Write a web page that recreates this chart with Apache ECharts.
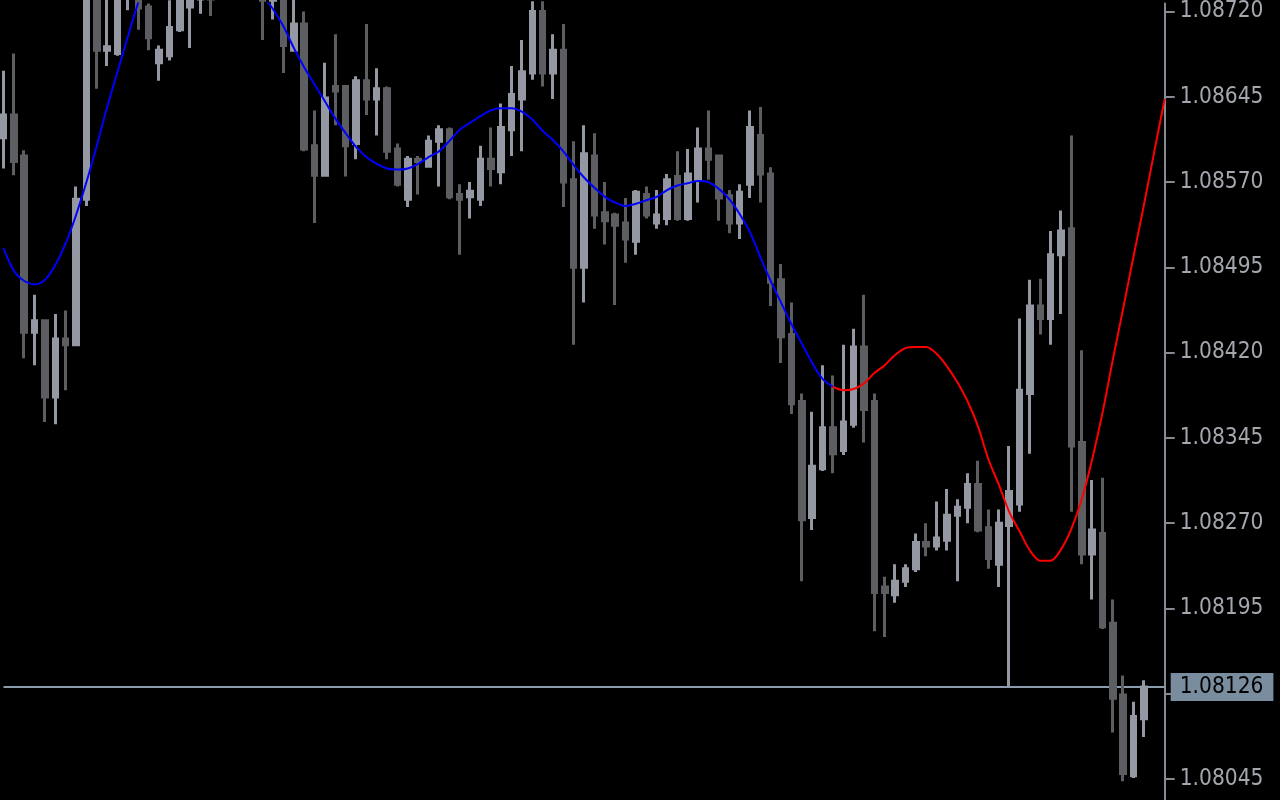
<!DOCTYPE html>
<html><head><meta charset="utf-8">
<script src="https://cdn.jsdelivr.net/npm/echarts@6/dist/echarts.min.js"></script>
<style>html,body{margin:0;padding:0;background:#000;} #c{width:1280px;height:800px;}</style>
</head><body><div id="c"></div>
<script>
// OHLC in 1e-5 price units
const opens = [108609,108629,108593,108438,108448,108381,108432,108427,108555,108736,
108686,108683,108736,108736,108724,108675,108681,108704,108724,108731,
108749,108736,108762,108745,108766,108740,108730,108731,108686,108709,
108602,108576,108654,108654,108604,108659,108643,108652,108599,108555,
108590,108584,108606,108616,108559,108557,108555,108590,108579,108616,
108643,108666,108720,108666,108686,108572,108495,108593,108543,108541,
108534,108518,108559,108534,108538,108575,108538,108572,108599,108593,
108558,108534,108568,108611,108577,108484,108436,108377,108275,108318,
108354,108334,108357,108425,108377,108214,108207,108219,108230,108253,
108250,108255,108277,108284,108304,108266,108234,108268,108287,108384,
108461,108450,108506,108529,108341,108243,108261,108182,108119,108048,
108098];
const closes = [108629,108588,108438,108448,108381,108432,108427,108555,108740,108686,
108689,108736,108753,108723,108697,108686,108706,108731,108736,108745,
108731,108762,108745,108766,108740,108730,108745,108690,108709,108599,
108576,108644,108650,108602,108659,108643,108652,108597,108568,108590,
108588,108606,108616,108557,108555,108562,108590,108582,108618,108647,
108667,108720,108666,108686,108570,108495,108595,108541,108536,108532,
108520,108561,108541,108541,108572,108538,108577,108599,108590,108556,
108534,108561,108618,108577,108482,108434,108375,108273,108320,108354,
108331,108359,108425,108370,108209,108209,108219,108230,108253,108250,
108257,108277,108284,108304,108264,108239,108270,108298,108387,108461,
108450,108506,108527,108338,108243,108264,108179,108116,108050,108100,
108126];
const lows = [108582,108576,108415,108409,108359,108357,108387,108427,108549,108652,
108672,108681,108721,108704,108686,108659,108677,108702,108688,108718,
108716,108731,108736,108740,108731,108695,108713,108666,108686,108597,
108534,108576,108620,108575,108590,108629,108611,108590,108566,108548,
108559,108584,108566,108555,108506,108538,108549,108566,108568,108593,
108597,108660,108654,108643,108548,108427,108464,108529,108515,108462,
108499,108506,108538,108529,108532,108536,108536,108552,108572,108536,
108525,108520,108556,108552,108461,108411,108366,108219,108264,108316,
108314,108330,108354,108341,108175,108170,108200,108214,108227,108241,
108246,108246,108219,108270,108262,108230,108214,108125,108280,108331,
108436,108427,108454,108280,108234,108203,108177,108086,108043,108046,
108082];
const highs = [108668,108683,108598,108471,108448,108454,108457,108566,108749,108745,
108731,108740,108762,108745,108727,108690,108730,108736,108740,108753,
108758,108771,108775,108775,108779,108749,108753,108740,108731,108720,
108633,108675,108700,108654,108663,108709,108670,108654,108604,108593,
108593,108611,108620,108618,108568,108570,108602,108618,108639,108672,
108695,108729,108729,108700,108709,108606,108620,108613,108570,108543,
108556,108563,108566,108563,108577,108597,108599,108618,108633,108593,
108563,108568,108633,108636,108583,108498,108464,108384,108368,108409,
108400,108427,108441,108471,108384,108223,108234,108234,108261,108270,
108289,108300,108291,108314,108325,108282,108282,108338,108450,108484,
108485,108527,108545,108611,108422,108308,108310,108203,108136,108113,
108132];
// smoothing indicator, one value per bar (last two bars are projection only)
const filterLine = [108512,108492,108483,108480,108484,108497,108516,108541,108570,108602,
108636,108667,108698,108728,108753,108773,108789,108799,108804,108804,
108799,108788,108774,108760,108746,108734,108722,108707,108688,108671,
108656,108641,108626,108613,108601,108592,108586,108582,108581,108582,
108586,108592,108597,108606,108616,108622,108628,108633,108635,108635,
108632,108625,108615,108607,108597,108585,108574,108565,108557,108552,
108549,108551,108554,108557,108563,108567,108569,108571,108570,108564,
108555,108542,108526,108504,108483,108464,108445,108428,108411,108397,
108390,108387,108388,108393,108402,108409,108418,108424,108425,108425,
108419,108408,108394,108377,108355,108326,108304,108280,108263,108246,
108237,108237,108247,108265,108291,108326,108367,108414,108459,108505,
108550,108597,108643];
const projectionStart = 80;
const tickLabels = [108045,108120,108195,108270,108345,108420,108495,108570,108645,108720];
const yRange = {min: 108026.6, max: 108727.0};
const lastPrice = 108126;

const S = 1e-5;
const px = v => +(v * S).toFixed(6);
const cats = filterLine.map((_, i) => 'B' + i);
const candleData = opens.map((o, i) => [px(o), px(closes[i]), px(lows[i]), px(highs[i])]);
const blueData = filterLine.map((v, i) => i <= projectionStart ? px(v) : null);
const redData = filterLine.map((v, i) => i >= projectionStart ? px(v) : null);
const priceLine = cats.map(() => px(lastPrice));
const tickVals = tickLabels.map(px);

const FONT = '"DejaVu Sans Condensed", "DejaVu Sans", sans-serif';
const chart = echarts.init(document.getElementById('c'));
chart.setOption({
  backgroundColor: '#000000',
  animation: false,
  grid: {left: 3.5, right: 115.3, top: 0, bottom: 0},
  xAxis: {type: 'category', data: cats, boundaryGap: false, show: false},
  yAxis: {
    type: 'value', position: 'right',
    min: px(yRange.min), max: px(yRange.max),
    axisLine: {show: true, lineStyle: {color: '#868a92', width: 2}},
    axisTick: {show: true, length: 10, customValues: tickVals, lineStyle: {color: '#868a92', width: 2}},
    axisLabel: {margin: 15, color: '#a4a7ae', fontFamily: FONT, fontSize: 22.5, customValues: tickVals,
      formatter: v => (+v).toFixed(5)},
    splitLine: {show: false}
  },
  series: [
    {type: 'line', data: priceLine, symbol: 'none', silent: true, z: 1,
      lineStyle: {color: '#8a9cae', width: 2},
      endLabel: {show: true, distance: 6, formatter: () => px(lastPrice).toFixed(5),
        backgroundColor: '#7a8d9e', color: '#000000', padding: [3, 10, 3, 9], lineHeight: 22,
        fontFamily: FONT, fontSize: 22.5}
    },
    {
      type: 'candlestick', data: candleData, clip: false, barWidth: 5,
      itemStyle: {color: '#9398a2', color0: '#5c5e62', borderColor: '#9398a2', borderColor0: '#5c5e62', borderWidth: 3},
      z: 2
    },
    {type: 'line', data: blueData, symbol: 'none', smooth: 0.3, connectNulls: false,
      lineStyle: {color: '#0000ff', width: 2}, z: 3},
    {type: 'line', data: redData, symbol: 'none', smooth: 0.3, connectNulls: false,
      lineStyle: {color: '#ff0000', width: 2}, z: 3}
  ]
});
</script></body></html>
